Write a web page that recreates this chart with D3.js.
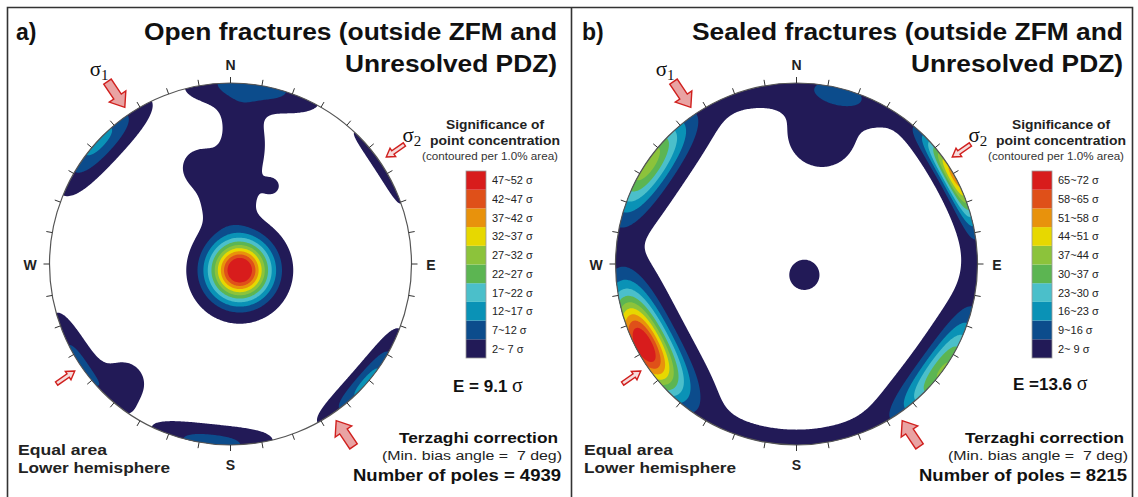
<!DOCTYPE html>
<html>
<head>
<meta charset="utf-8">
<script src="https://cdn.jsdelivr.net/npm/d3@7"></script>
<style>
  body { margin: 0; background: #fff; }
  svg { display: block; font-family: "Liberation Sans", Arial, sans-serif; }
  text { white-space: pre; }
</style>
</head>
<body>
<svg width="1138" height="497"></svg>
<script>
// ---- data ----
var panelLetters = ["a)", "b)"];
var titleLine1 = ["Open fractures (outside ZFM and", "Sealed fractures (outside ZFM and"];
var titleLine2 = ["Unresolved PDZ)", "Unresolved PDZ)"];
var levelsA = [2, 7, 12, 17, 22, 27, 32, 37, 42, 47, 52];
var levelsB = [2, 9, 16, 23, 30, 37, 44, 51, 58, 65, 72];
var eLabels = ["E = 9.1 ", "E =13.6 "];
var poleCounts = [4939, 8215];
var minBiasAngle = [7, 7];
var bandColors = ["#221a57", "#0c4c8c", "#0a92b6", "#4bbfca", "#5cb552",
                  "#8cc33b", "#e7d800", "#e8920c", "#df5019", "#d81c1c"];

// pole clusters: [trend deg, plunge deg, spread along deg, spread across deg, peak sigma]
var clustersA = [
  [124, 85, 10.3, 10.3, 56],
  [6.4, 29, 7.5, 7.5, 3],
  [6.5, 39.3, 7.5, 7.5, 3],
  [342.5, 43.2, 7.5, 7.5, 3.6],
  [3, 51.6, 9, 9, 3],
  [355.6, 63.3, 10, 10, 3.4],
  [3.6, 17, 7, 7, 3],
  [28, 49.6, 3.5, 3.5, 2.8],
  [7, 0, 18, 7, 11],
  [57, 0, 18, 3.5, 4],
  [313, 0, 16.5, 6.5, 14],
  [131, 0, 16, 4.5, 14],
  [237, 0, 16, 5, 8.5],
  [222, 12, 9, 9, 4],
  [186, 0, 17, 5.5, 10]
];
var clustersB = [
  [304, 0, 19.5, 8.5, 42],
  [61, 0, 16.5, 4.3, 54],
  [242, 5, 19.5, 8.5, 73],
  [126, 0, 20, 7.2, 38],
  [14, 4, 10, 5, 8],
  [11, 27, 17, 17, 3.3],
  [144, 84, 7.5, 7.5, 3.3],
  [342, 0, 15, 7.5, 2.5],
  [357, 0, 15, 7.5, 2.6],
  [12, 0, 15, 7.5, 2.6],
  [27, 0, 15, 7.5, 2.8],
  [90, 0, 15, 7.5, 2.6],
  [160, 0, 15, 6.5, 2.5],
  [175, 0, 15, 6.5, 2.5],
  [190, 0, 15, 6.5, 2.5],
  [205, 0, 15, 6.5, 2.5]
];
var stress = [
  { sub: "1", trend: 326, big: true },
  { sub: "2", trend: 55.5, big: false }
];
var compass = [["N", 0], ["E", 90], ["S", 180], ["W", 270]];
var tickTrends = d3.range(0, 360, 10);

// ---- layout ----
var svg = d3.select("svg"),
    R = 181,
    cx = 230.5, cy = 264,
    panelX = [0, 566],
    rad = Math.PI / 180;

function eqArea(plunge) { return Math.SQRT2 * Math.sin((90 - plunge) * rad / 2); }
function polar(trend, r) { return [r * Math.sin(trend * rad), -r * Math.cos(trend * rad)]; }

// summed pole density at unit-disk point (u, v), y pointing down
function density(u, v, clusters) {
  var r = Math.hypot(u, v), th = Math.atan2(u, -v), s = 0;
  clusters.forEach(function(k) {
    var t = k[0] * rad, rc = eqArea(k[1]), sa = k[2] / 90, sr = k[3] / 90, q;
    if (k[2] === k[3]) {
      var du = u - rc * Math.sin(t), dv = v + rc * Math.cos(t);
      q = (du * du + dv * dv) / (sa * sa);
    } else {
      // elongated along the primitive circle
      var dt = th - t;
      dt = ((dt % (2 * Math.PI)) + 3 * Math.PI) % (2 * Math.PI) - Math.PI;
      var da = dt * rc / sa, dr = (r - rc) / sr;
      q = da * da + dr * dr;
    }
    s += k[4] * Math.exp(-0.5 * q);
  });
  return s;
}

function fit(sel, w) { return sel.attr("textLength", w).attr("lengthAdjust", "spacingAndGlyphs"); }

// frame
svg.append("path")
    .attr("d", "M7.5,497V7.5H1132.5V497M571.5,7.5V497")
    .attr("fill", "none").attr("stroke", "#333").attr("stroke-width", 1.6);

var defs = svg.append("defs");
defs.append("clipPath").attr("id", "net").append("circle")
    .attr("cx", cx).attr("cy", cy).attr("r", R);

var bigArrow = [[0, 0], [-13, -10], [-13, -4.5], [-31, -4.5], [-31, 4.5], [-13, 4.5], [-13, 10]];
var smallArrow = [[0, 0], [-8, -5], [-8, -2], [-22, -2], [-22, 2], [-8, 2], [-8, 5]];
var labelOffset = { "1": [-15, -1.5], "2": [-13.5, 5.4] };

[clustersA, clustersB].forEach(function(clusters, p) {
  var levels = p ? levelsB : levelsA;
  var g = svg.append("g").attr("transform", "translate(" + panelX[p] + ",0)");

  // density grid and contours
  var step = 1.25, ext = R + 6, n = Math.ceil(2 * ext / step);
  var values = new Float64Array(n * n);
  for (var j = 0; j < n; j++) {
    for (var i = 0; i < n; i++) {
      var px = -ext + (i + 0.5) * step, py = -ext + (j + 0.5) * step;
      values[j * n + i] = density(px / R, py / R, clusters);
    }
  }
  var contours = d3.contours().size([n, n]).thresholds(levels.slice(0, 10))(values);
  var path = d3.geoPath(d3.geoTransform({
    point: function(x, y) { this.stream.point(cx - ext + x * step, cy - ext + y * step); }
  }));

  g.append("circle").attr("cx", cx).attr("cy", cy).attr("r", R).attr("fill", "#fff");
  g.append("g").attr("clip-path", "url(#net)")
    .selectAll("path").data(contours).enter().append("path")
      .attr("d", path)
      .attr("fill", function(d, i) { return bandColors[i]; });

  g.append("circle").attr("cx", cx).attr("cy", cy).attr("r", R)
      .attr("fill", "none").attr("stroke", "#555").attr("stroke-width", 1.2);

  g.append("g").selectAll("line").data(tickTrends).enter().append("line")
      .attr("x1", function(d) { return cx + polar(d, R)[0]; })
      .attr("y1", function(d) { return cy + polar(d, R)[1]; })
      .attr("x2", function(d) { return cx + polar(d, R + 6)[0]; })
      .attr("y2", function(d) { return cy + polar(d, R + 6)[1]; })
      .attr("stroke", "#333").attr("stroke-width", 1);

  g.selectAll(".cmp").data(compass).enter().append("text")
      .attr("class", "cmp")
      .attr("x", function(d) { return cx + polar(d[1], R + (d[1] % 180 ? 19.5 : 0))[0]; })
      .attr("y", function(d) { return d[1] === 0 ? cy - R - 13 : d[1] === 180 ? cy + R + 25 : cy + 5.5; })
      .attr("text-anchor", "middle")
      .attr("font-weight", "bold").attr("font-size", 14).attr("fill", "#222")
      .text(function(d) { return d[0]; });

  // stress arrows
  stress.forEach(function(s) {
    [s.trend, s.trend + 180].forEach(function(t, k) {
      var tip = polar(t, R + 8),
          ang = Math.atan2(Math.cos(t * rad), -Math.sin(t * rad)) / rad;
      g.append("polygon")
          .attr("points", (s.big ? bigArrow : smallArrow).join(" "))
          .attr("transform", "translate(" + (cx + tip[0]) + "," + (cy + tip[1]) + ") rotate(" + ang + ")")
          .attr("fill", s.big ? "#e9a3a3" : "#f6dcdc")
          .attr("stroke", "#d0201e").attr("stroke-width", 1.4);
      if (k === 0) {
        var at = polar(t, R + 44), off = labelOffset[s.sub];
        var lt = g.append("text")
            .attr("x", cx + at[0] + off[0]).attr("y", cy + at[1] + off[1])
            .attr("font-family", "'Liberation Serif', 'Times New Roman', serif")
            .attr("font-size", 21).attr("fill", "#111");
        lt.append("tspan").text("σ");
        lt.append("tspan").attr("font-size", 15).attr("dy", 4).text(s.sub);
      }
    });
  });

  // titles
  g.append("text").attr("x", 16).attr("y", 40)
      .attr("font-weight", "bold").attr("font-size", 23).attr("fill", "#111")
      .text(panelLetters[p]);
  fit(g.append("text").attr("x", 557).attr("y", 40).attr("text-anchor", "end")
      .attr("font-weight", "bold").attr("font-size", 23).attr("fill", "#111")
      .text(titleLine1[p]), p ? 431 : 413);
  fit(g.append("text").attr("x", 557).attr("y", 72).attr("text-anchor", "end")
      .attr("font-weight", "bold").attr("font-size", 23).attr("fill", "#111")
      .text(titleLine2[p]), 212);

  // legend
  fit(g.append("text").attr("x", 495).attr("y", 129).attr("text-anchor", "middle")
      .attr("font-weight", "bold").attr("font-size", 12.5).attr("fill", "#222")
      .text("Significance of"), 98);
  fit(g.append("text").attr("x", 495).attr("y", 145).attr("text-anchor", "middle")
      .attr("font-weight", "bold").attr("font-size", 12.5).attr("fill", "#222")
      .text("point concentration"), 130);
  fit(g.append("text").attr("x", 490).attr("y", 160).attr("text-anchor", "middle")
      .attr("font-size", 10.5).attr("fill", "#333")
      .text("(contoured per 1.0% area)"), 136);

  var y = d3.scaleLinear().domain([0, 10]).range([358, 171]);
  var bars = g.append("g");
  bars.selectAll("rect").data(d3.range(10)).enter().append("rect")
      .attr("x", 466).attr("width", 20)
      .attr("y", function(i) { return y(i + 1); })
      .attr("height", function(i) { return y(i) - y(i + 1); })
      .attr("fill", function(i) { return bandColors[i]; });
  bars.append("rect").attr("x", 466).attr("width", 20).attr("y", y(10)).attr("height", y(0) - y(10))
      .attr("fill", "none").attr("stroke", "#999").attr("stroke-width", 0.8);
  bars.selectAll("text").data(d3.range(10)).enter().append("text")
      .attr("x", 492).attr("y", function(i) { return (y(i) + y(i + 1)) / 2 + 4; })
      .attr("font-size", 11).attr("fill", "#222")
      .text(function(i) {
        var hi = levels[i + 1];
        return levels[i] + "~" + (hi < 10 ? " " + hi : hi) + " σ";
      });

  var et = g.append("text").attr("x", 453 - p * 6).attr("y", 392 - p * 2)
      .attr("font-size", 17).attr("fill", "#111");
  et.append("tspan").attr("font-weight", "bold").text(eLabels[p]);
  et.append("tspan").attr("font-family", "'Liberation Serif', serif").attr("font-size", 20).text("σ");

  fit(g.append("text").attr("x", 558).attr("y", 443).attr("text-anchor", "end")
      .attr("font-weight", "bold").attr("font-size", 15.5).attr("fill", "#111")
      .text("Terzaghi correction"), 159);
  fit(g.append("text").attr("x", 562).attr("y", 460).attr("text-anchor", "end")
      .attr("font-size", 12.5).attr("fill", "#222")
      .text("(Min. bias angle =  " + minBiasAngle[p] + " deg)"), 180);
  fit(g.append("text").attr("x", 561).attr("y", 481).attr("text-anchor", "end")
      .attr("font-weight", "bold").attr("font-size", 16.5).attr("fill", "#111")
      .text("Number of poles = " + poleCounts[p]), 208);

  fit(g.append("text").attr("x", 18).attr("y", 455)
      .attr("font-weight", "bold").attr("font-size", 15).attr("fill", "#222")
      .text("Equal area"), 89);
  fit(g.append("text").attr("x", 18).attr("y", 473)
      .attr("font-weight", "bold").attr("font-size", 15).attr("fill", "#222")
      .text("Lower hemisphere"), 152);
});
</script>
</body>
</html>
